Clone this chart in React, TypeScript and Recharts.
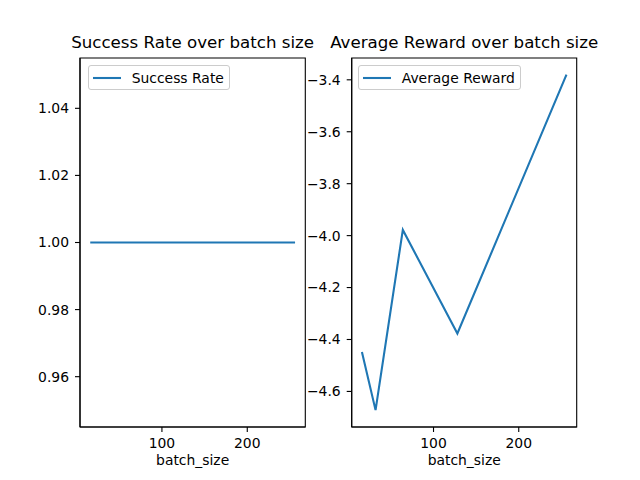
import React from 'react';
import { LineChart, Line, XAxis, YAxis, Legend, ReferenceArea } from 'recharts';

const batchSizes = [16, 32, 64, 128, 256];
const successRate = [1, 1, 1, 1, 1];
const avgReward = [-4.448, -4.672, -3.978, -4.377, -3.38];

const xTicks = [100, 200];
const successTicks = [0.96, 0.98, 1.0, 1.02, 1.04];
const rewardTicks = [-4.6, -4.4, -4.2, -4.0, -3.8, -3.6, -3.4];

const xDomain: [number, number] = [4, 268];
const successDomain: [number, number] = [0.945, 1.055];
const rewardDomain: [number, number] = [-4.737, -3.316];

const successData = batchSizes.map((b, i) => ({ batch: b, value: successRate[i] }));
const rewardData = batchSizes.map((b, i) => ({ batch: b, value: avgReward[i] }));

const FONT = 'DejaVu Sans, sans-serif';
const BLUE = '#1f77b4';
const TICK_FS = 13.9;

const fmtMinus = (v: number, d: number) => {
  const s = Math.abs(v).toFixed(d);
  return v < 0 ? '\u2212' + s : s;
};

const LegendBox = ({ label }: { label: string }) => (
  <div
    style={{
      display: 'flex',
      alignItems: 'center',
      height: 23,
      border: '1px solid #cccccc',
      borderRadius: 3,
      background: 'rgba(255,255,255,0.8)',
      paddingLeft: 4,
      paddingRight: 5,
      fontFamily: FONT,
      fontSize: TICK_FS,
      color: '#000',
      whiteSpace: 'nowrap',
      boxSizing: 'content-box',
    }}
  >
    <svg width={28} height={4} style={{ display: 'block', marginRight: 11 }}>
      <line x1={0} y1={2} x2={28} y2={2} stroke={BLUE} strokeWidth={2.1} />
    </svg>
    <span style={{ lineHeight: '16px' }}>{label}</span>
  </div>
);

const Title = ({ text, center }: { text: string; center: number }) => (
  <div
    style={{
      position: 'absolute',
      left: center - 200,
      width: 400,
      top: 33.2,
      textAlign: 'center',
      fontFamily: FONT,
      fontSize: 16.67,
      lineHeight: '20px',
      color: '#000',
      whiteSpace: 'nowrap',
    }}
  >
    {text}
  </div>
);

type PanelProps = {
  data: { batch: number; value: number }[];
  left: number;
  width: number;
  marginLeft: number;
  marginRight: number;
  yDomain: [number, number];
  yTicks: number[];
  yFmt: (v: number) => string;
  legendLabel: string;
  legendLeft: number;
};

const Panel = (p: PanelProps) => (
  <div style={{ position: 'absolute', left: p.left, top: 0 }}>
    <LineChart
      width={p.width}
      height={480}
      data={p.data}
      margin={{ top: 58, left: p.marginLeft, right: p.marginRight, bottom: 8 }}
    >
      <XAxis
        dataKey="batch"
        type="number"
        domain={xDomain}
        ticks={xTicks}
        allowDataOverflow
        height={45}
        tickSize={5}
        tickMargin={6}
        stroke="#000"
        tick={{ fill: '#000', fontSize: TICK_FS, fontFamily: FONT }}
        tickLine={{ stroke: '#000', strokeWidth: 1.1 }}
        axisLine={{ stroke: '#000', strokeWidth: 1.1 }}
        label={{
          value: 'batch_size',
          position: 'insideBottom',
          offset: 7,
          fill: '#000',
          fontSize: TICK_FS,
          fontFamily: FONT,
        }}
      />
      <YAxis
        type="number"
        domain={p.yDomain}
        ticks={p.yTicks}
        allowDataOverflow
        width={60}
        tickSize={5}
        tickMargin={6}
        stroke="#000"
        tickFormatter={p.yFmt}
        tick={{ fill: '#000', fontSize: TICK_FS, fontFamily: FONT }}
        tickLine={{ stroke: '#000', strokeWidth: 1.1 }}
        axisLine={{ stroke: '#000', strokeWidth: 1.1 }}
      />
      <ReferenceArea
        x1={xDomain[0]}
        x2={xDomain[1]}
        y1={p.yDomain[0]}
        y2={p.yDomain[1]}
        fill="none"
        fillOpacity={0}
        stroke="#000"
        strokeWidth={1.1}
      />
      <Line
        type="linear"
        dataKey="value"
        stroke={BLUE}
        strokeWidth={2.1}
        dot={false}
        activeDot={false}
        isAnimationActive={false}
      />
      <Legend
        layout="vertical"
        align="center"
        verticalAlign="middle"
        wrapperStyle={{ left: p.legendLeft, top: 65.3, width: 'auto', height: 'auto' }}
        content={() => <LegendBox label={p.legendLabel} />}
      />
    </LineChart>
  </div>
);

export default function App() {
  return (
    <div
      style={{
        position: 'absolute',
        left: 0,
        top: 0,
        width: 640,
        height: 480,
        background: '#fff',
        overflow: 'hidden',
      }}
    >
      <Panel
        data={successData}
        left={0}
        width={320}
        marginLeft={20}
        marginRight={14.7}
        yDomain={successDomain}
        yTicks={successTicks}
        yFmt={(v) => v.toFixed(2)}
        legendLabel="Success Rate"
        legendLeft={87.7}
      />
      <Panel
        data={rewardData}
        left={290}
        width={350}
        marginLeft={1.7}
        marginRight={63.3}
        yDomain={rewardDomain}
        yTicks={rewardTicks}
        yFmt={(v) => fmtMinus(v, 1)}
        legendLabel="Average Reward"
        legendLeft={67.7}
      />
      <Title text="Success Rate over batch size" center={192.6} />
      <Title text="Average Reward over batch size" center={464.2} />
    </div>
  );
}
